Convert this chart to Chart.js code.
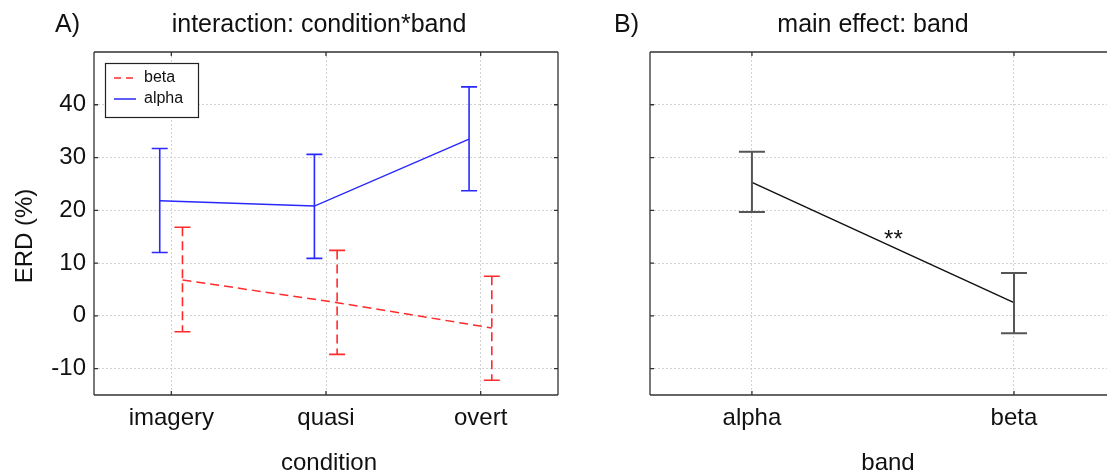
<!DOCTYPE html>
<html lang="en">
<head>
<meta charset="UTF-8">
<title>ERD - condition and band</title>
<script src="https://cdn.jsdelivr.net/npm/chart.js"></script>
<style>
    body { margin: 0; background: #fff; overflow: hidden; }
    #wrap { position: relative; width: 1107px; height: 473px; }
    canvas { position: absolute; top: 0; }
    #chartA { left: 0; }
    #chartB { left: 600px; }
</style>
</head>
<body>
<div id="wrap">
    <canvas id="chartA" width="600" height="473"></canvas>
    <canvas id="chartB" width="507" height="473"></canvas>
</div>
<script>
// A) interaction: condition*band
const conditions = ['imagery', 'quasi', 'overt'];
const alphaMean = [21.8, 20.8, 33.5];
const alphaHi   = [31.7, 30.6, 43.4];
const alphaLo   = [12.0, 10.9, 23.7];
const betaMean  = [6.8, 2.5, -2.3];
const betaHi    = [16.8, 12.4, 7.5];
const betaLo    = [-3.0, -7.3, -12.2];

// B) main effect: band
const bands    = ['alpha', 'beta'];
const bandMean = [25.3, 2.5];
const bandHi   = [31.1, 8.1];
const bandLo   = [19.7, -3.3];

const yTicks = [-10, 0, 10, 20, 30, 40];

const FONT = '"Liberation Sans", Arial, sans-serif';
const INK = '#111';

function points(means, shift) {
    return means.map((v, i) => ({ x: i + shift, y: v }));
}

// box round the plot area with short inward ticks
const framePlugin = {
    id: 'frame',
    afterDraw(chart, args, opts) {
        const { ctx, chartArea: a, scales } = chart;
        const sides = opts.sides || 'tlbr';
        ctx.save();
        ctx.strokeStyle = '#333';
        ctx.lineWidth = 1.3;
        ctx.beginPath();
        if (sides.includes('t')) { ctx.moveTo(a.left, a.top); ctx.lineTo(a.right, a.top); }
        if (sides.includes('b')) { ctx.moveTo(a.left, a.bottom); ctx.lineTo(a.right, a.bottom); }
        if (sides.includes('l')) { ctx.moveTo(a.left, a.top); ctx.lineTo(a.left, a.bottom); }
        if (sides.includes('r')) { ctx.moveTo(a.right, a.top); ctx.lineTo(a.right, a.bottom); }
        scales.y.ticks.forEach(t => {
            const y = scales.y.getPixelForValue(t.value);
            if (sides.includes('l')) { ctx.moveTo(a.left, y); ctx.lineTo(a.left + 4, y); }
            if (sides.includes('r')) { ctx.moveTo(a.right, y); ctx.lineTo(a.right - 4, y); }
        });
        scales.x.ticks.forEach(t => {
            const x = scales.x.getPixelForValue(t.value);
            ctx.moveTo(x, a.top); ctx.lineTo(x, a.top + 4);
            ctx.moveTo(x, a.bottom); ctx.lineTo(x, a.bottom - 4);
        });
        ctx.stroke();
        ctx.restore();
    }
};

// vertical error bars from dataset.hi / dataset.lo
const errorBarPlugin = {
    id: 'errorBars',
    afterDatasetsDraw(chart) {
        const { ctx, scales } = chart;
        chart.data.datasets.forEach(ds => {
            if (!ds.hi) return;
            ctx.save();
            ctx.strokeStyle = ds.barColor || ds.borderColor;
            ctx.lineWidth = ds.barWidth || 1.6;
            ds.data.forEach((p, i) => {
                const x = scales.x.getPixelForValue(p.x);
                const yh = scales.y.getPixelForValue(ds.hi[i]);
                const yl = scales.y.getPixelForValue(ds.lo[i]);
                ctx.setLineDash(ds.borderDash || []);
                ctx.beginPath();
                ctx.moveTo(x, yh); ctx.lineTo(x, yl);
                ctx.stroke();
                ctx.setLineDash([]);
                ctx.beginPath();
                ctx.moveTo(x - ds.cap, yh); ctx.lineTo(x + ds.cap, yh);
                ctx.moveTo(x - ds.cap, yl); ctx.lineTo(x + ds.cap, yl);
                ctx.stroke();
            });
            ctx.restore();
        });
    }
};

// panel letter, title, axis titles, legend, note
const panelTextPlugin = {
    id: 'panelText',
    afterDraw(chart, args, o) {
        const { ctx, chartArea: a, scales } = chart;
        ctx.save();
        ctx.fillStyle = INK;
        ctx.font = '25px ' + FONT;
        ctx.textBaseline = 'alphabetic';
        ctx.textAlign = 'left';
        ctx.fillText(o.tag, o.tagX, 32);
        ctx.textAlign = 'center';
        ctx.fillText(o.title, o.titleX, 32);
        ctx.font = '24px ' + FONT;
        ctx.fillText(o.xTitle, o.xTitleX, 470);
        if (o.yTitle) {
            ctx.save();
            ctx.translate(25, o.yTitleY);
            ctx.rotate(-Math.PI / 2);
            ctx.textBaseline = 'middle';
            ctx.fillText(o.yTitle, 0, 0);
            ctx.restore();
        }
        if (o.note) {
            ctx.fillText(o.note.text, scales.x.getPixelForValue(o.note.x), scales.y.getPixelForValue(o.note.y));
        }
        if (o.legend) {
            const bx = a.left + 11, by = a.top + 11;
            ctx.fillStyle = '#fff';
            ctx.fillRect(bx, by, 93, 54);
            ctx.strokeStyle = '#222';
            ctx.lineWidth = 1.2;
            ctx.strokeRect(bx + 0.5, by + 0.5, 93, 54);
            ctx.font = '16px ' + FONT;
            ctx.textAlign = 'left';
            ctx.textBaseline = 'middle';
            chart.data.datasets.forEach((ds, i) => {
                const y = by + 15 + i * 21;
                ctx.strokeStyle = ds.borderColor;
                ctx.lineWidth = 1.5;
                ctx.setLineDash(ds.borderDash ? [7, 5] : []);
                ctx.beginPath();
                ctx.moveTo(bx + 9, y); ctx.lineTo(bx + 31, y);
                ctx.stroke();
                ctx.setLineDash([]);
                ctx.fillStyle = INK;
                ctx.fillText(ds.label, bx + 39, y);
            });
        }
        ctx.restore();
    }
};

const gridStyle = { color: '#d2d2d2', lineWidth: 1, drawTicks: false };
const borderStyle = { display: false, dash: [2, 2] };
const tickFont = { family: FONT, size: 24 };

new Chart(document.getElementById('chartA'), {
    type: 'line',
    data: {
        datasets: [
            {
                label: 'beta',
                data: points(betaMean, 0.072),
                hi: betaHi, lo: betaLo, cap: 8,
                borderColor: '#ff2b2b', borderDash: [9, 5], borderWidth: 1.5,
                pointRadius: 0, tension: 0
            },
            {
                label: 'alpha',
                data: points(alphaMean, -0.075),
                hi: alphaHi, lo: alphaLo, cap: 8,
                borderColor: '#2828ff', borderWidth: 1.5,
                pointRadius: 0, tension: 0
            }
        ]
    },
    options: {
        responsive: false,
        animation: false,
        layout: { padding: { top: 52, right: 42, bottom: 0, left: 0 } },
        plugins: {
            legend: { display: false },
            tooltip: { enabled: false },
            frame: { sides: 'tlbr' },
            panelText: {
                tag: 'A)', tagX: 55,
                title: 'interaction: condition*band', titleX: 319,
                xTitle: 'condition', xTitleX: 329,
                yTitle: 'ERD (%)', yTitleY: 236,
                legend: true
            }
        },
        scales: {
            x: {
                type: 'linear', min: -0.5, max: 2.5,
                afterBuildTicks: s => { s.ticks = conditions.map((c, i) => ({ value: i })); },
                afterFit: s => { s.height = 78; },
                ticks: { callback: v => conditions[v], font: tickFont, color: INK, padding: 9, autoSkip: false, maxRotation: 0 },
                grid: gridStyle,
                border: borderStyle
            },
            y: {
                min: -15, max: 50,
                afterBuildTicks: s => { s.ticks = yTicks.map(v => ({ value: v })); },
                afterFit: s => { s.width = 94; },
                ticks: { font: tickFont, color: INK, padding: 8 },
                grid: gridStyle,
                border: borderStyle
            }
        }
    },
    plugins: [framePlugin, errorBarPlugin, panelTextPlugin]
});

new Chart(document.getElementById('chartB'), {
    type: 'line',
    data: {
        datasets: [
            {
                label: 'band',
                data: points(bandMean, 0),
                hi: bandHi, lo: bandLo, cap: 13,
                borderColor: '#111', borderWidth: 1.5,
                barColor: '#555', barWidth: 2,
                pointRadius: 0, tension: 0
            }
        ]
    },
    options: {
        responsive: false,
        animation: false,
        layout: { padding: { top: 52, right: 0, bottom: 0, left: 0 } },
        plugins: {
            legend: { display: false },
            tooltip: { enabled: false },
            frame: { sides: 'tlb' },
            panelText: {
                tag: 'B)', tagX: 14,
                title: 'main effect: band', titleX: 273,
                xTitle: 'band', xTitleX: 288,
                note: { text: '**', x: 0.54, y: 13.0 }
            }
        },
        scales: {
            x: {
                type: 'linear', min: -0.389, max: 1.355,
                afterBuildTicks: s => { s.ticks = bands.map((b, i) => ({ value: i })); },
                afterFit: s => { s.height = 78; },
                ticks: { callback: v => bands[v], font: tickFont, color: INK, padding: 9, autoSkip: false, maxRotation: 0 },
                grid: gridStyle,
                border: borderStyle
            },
            y: {
                min: -15, max: 50,
                afterBuildTicks: s => { s.ticks = yTicks.map(v => ({ value: v })); },
                afterFit: s => { s.width = 50; },
                ticks: { display: false },
                grid: gridStyle,
                border: borderStyle
            }
        }
    },
    plugins: [framePlugin, errorBarPlugin, panelTextPlugin]
});
</script>
</body>
</html>
